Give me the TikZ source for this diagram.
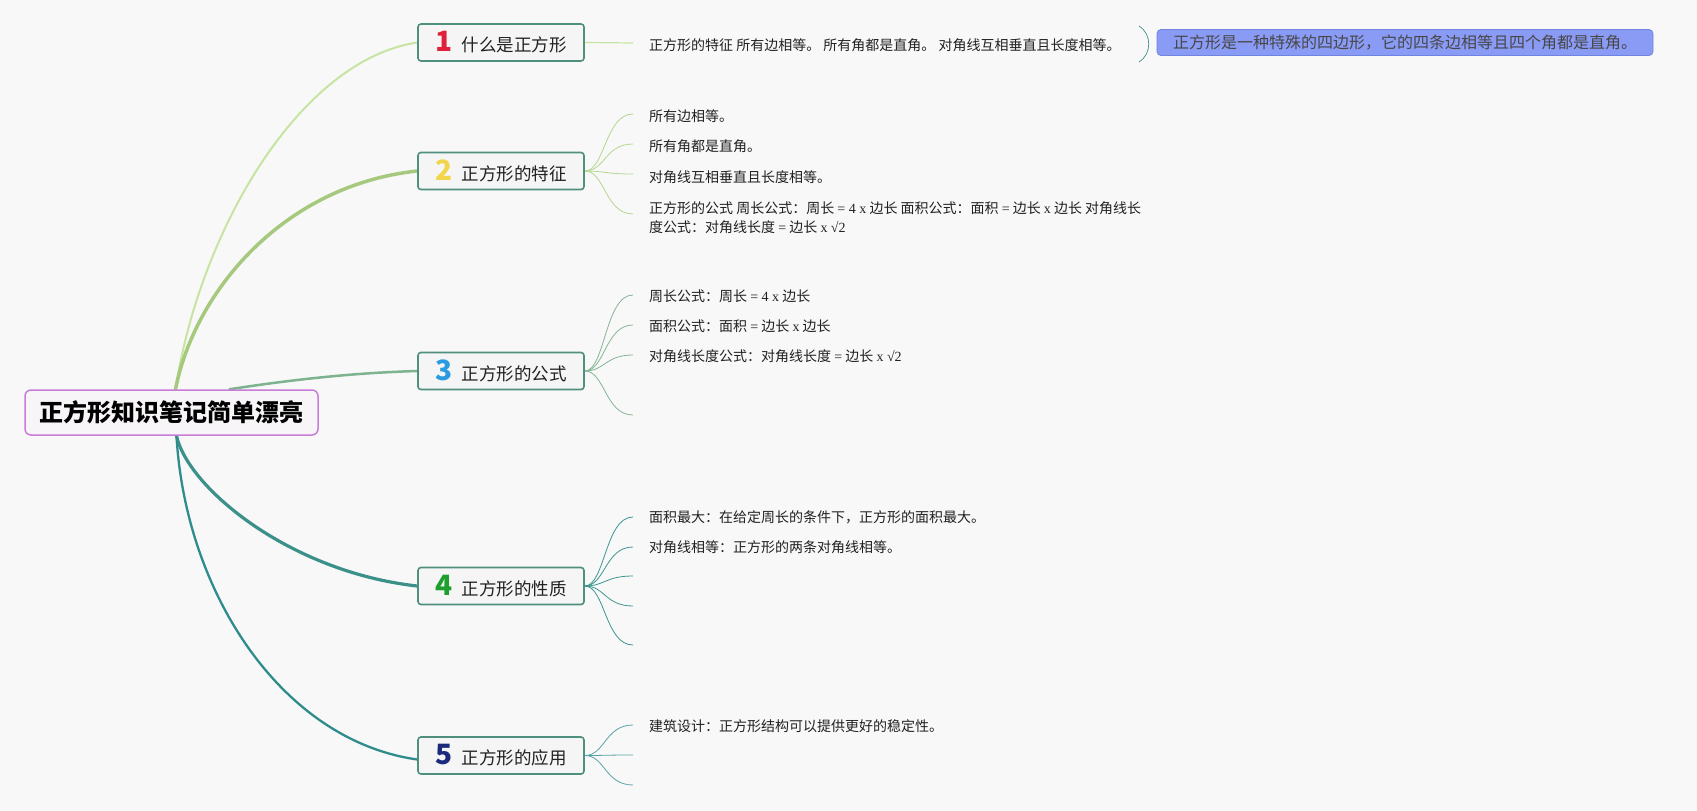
\documentclass[tikz,border=0pt]{standalone}
\usepackage{fontspec}
\setmainfont{Noto Sans CJK SC}
\newfontfamily\latinfont{Liberation Serif}
\usetikzlibrary{backgrounds}
\definecolor{bg}{HTML}{F8F8F8}
\definecolor{cA}{HTML}{C8E4A2}
\definecolor{cB}{HTML}{A6C97E}
\definecolor{cC}{HTML}{7DB38E}
\definecolor{cD}{HTML}{3B918A}
\definecolor{cE}{HTML}{2F8C8C}
\definecolor{chB}{HTML}{B5D68E}
\definecolor{chC}{HTML}{86B596}
\definecolor{chD}{HTML}{3E9590}
\definecolor{chE}{HTML}{5AA3A8}
\definecolor{nodeborder}{HTML}{4E8F7E}
\definecolor{nodefill}{HTML}{F4F5F4}
\definecolor{rootborder}{HTML}{C87DD8}
\definecolor{rootfill}{HTML}{F8F5F8}
\definecolor{callfill}{HTML}{8A9BF6}
\definecolor{callborder}{HTML}{6F84E0}
\definecolor{numA}{HTML}{E0203A}
\definecolor{numB}{HTML}{F2D54A}
\definecolor{numC}{HTML}{2A9BE0}
\definecolor{numD}{HTML}{1E9E2E}
\definecolor{numE}{HTML}{1C2A7E}
\newcommand\myl[1]{{\latinfont #1}}
\newcommand\mynum[2]{{\color{#1}\fontsize{28}{28}\selectfont\bfseries #2}\hspace{9pt}}
\begin{document}
\begin{tikzpicture}[x=1pt,y=-1pt,
  topic/.style={draw=nodeborder, line width=1.6pt, fill=nodefill, rounded corners=3pt,
    minimum width=166pt, minimum height=37pt, inner sep=0pt,
    font=\fontsize{17.5}{20}\selectfont, text=black!87},
  sub/.style={anchor=west, inner sep=0pt, font=\fontsize{14}{19.5}\selectfont, text=black!87},
  branch/.style={line cap=round},
  kid/.style={line width=0.8pt}]
\useasboundingbox (0,0) rectangle (1697,811);
\begin{pgfonlayer}{background}
\fill[bg] (0,0) rectangle (1697,811);
\end{pgfonlayer}

\node[draw=rootborder, line width=1.5pt, fill=rootfill, rounded corners=6pt,
  minimum width=293pt, minimum height=45pt, inner sep=0pt,
  font=\fontsize{24}{28}\selectfont\bfseries] (root) at (171.5,412.5) {正方形知识笔记简单漂亮};

\node[topic] (n1) at (501,42.5) {\mynum{numA}{1}什么是正方形};
\node[topic] (n2) at (501,171) {\mynum{numB}{2}正方形的特征};
\node[topic] (n3) at (501,371) {\mynum{numC}{3}正方形的公式};
\node[topic] (n4) at (501,586) {\mynum{numD}{4}正方形的性质};
\node[topic] (n5) at (501,755.5) {\mynum{numE}{5}正方形的应用};

% child endpoints
\coordinate (e1) at (633,43);
\coordinate (e2a) at (633,114); \coordinate (e2b) at (633,144);
\coordinate (e2c) at (633,174); \coordinate (e2d) at (633,214);
\coordinate (e3a) at (633,295); \coordinate (e3b) at (633,325);
\coordinate (e3c) at (633,355); \coordinate (e3d) at (633,415);
\coordinate (e4a) at (633,517); \coordinate (e4b) at (633,547);
\coordinate (e4c) at (633,576); \coordinate (e4d) at (633,606);
\coordinate (e4e) at (633,645);
\coordinate (e5a) at (633,725); \coordinate (e5b) at (633,755);
\coordinate (e5c) at (633,785);

% texts
\node[sub] (t1) at (649,45) {正方形的特征 所有边相等。 所有角都是直角。 对角线互相垂直且长度相等。};
\node[sub] (t2a) at (649,116) {所有边相等。};
\node[sub] (t2b) at (649,146) {所有角都是直角。};
\node[sub] (t2c) at (649,177) {对角线互相垂直且长度相等。};
\node[sub, align=left] (t2d) at (649,217.5) {正方形的公式 周长公式：周长 \myl{= 4 x} 边长 面积公式：面积 \myl{=} 边长 \myl{x} 边长 对角线长\\度公式：对角线长度 \myl{=} 边长 \myl{x √2}};
\node[sub] (t3a) at (649,296) {周长公式：周长 \myl{= 4 x} 边长};
\node[sub] (t3b) at (649,326) {面积公式：面积 \myl{=} 边长 \myl{x} 边长};
\node[sub] (t3c) at (649,356) {对角线长度公式：对角线长度 \myl{=} 边长 \myl{x √2}};
\node[sub] (t4a) at (649,517) {面积最大：在给定周长的条件下，正方形的面积最大。};
\node[sub] (t4b) at (649,547) {对角线相等：正方形的两条对角线相等。};
\node[sub] (t5a) at (649,726) {建筑设计：正方形结构可以提供更好的稳定性。};

% callout
\node[draw=callborder, line width=0.8pt, fill=callfill, rounded corners=4pt,
  minimum width=496pt, minimum height=26pt, inner sep=0pt,
  font=\fontsize{16}{18}\selectfont, text=black!72] (call) at (1405,42.5)
  {正方形是一种特殊的四边形，它的四条边相等且四个角都是直角。};
\coordinate (bt) at (1139,26);
\coordinate (bb) at (1139,62);
\draw[cD, line width=0.7pt] (bt) .. controls (1152,34) and (1152,54) .. (bb);

\begin{pgfonlayer}{background}
% main branches
\draw[branch, cA, line width=2pt] ([xshift=4pt]root.north) .. controls (200,230) and (300,60) .. (n1.west);
\draw[branch, cB, line width=3.5pt] ([xshift=4pt]root.north) .. controls (195,290) and (285,185) .. (n2.west);
\draw[branch, cC, line width=2.5pt] ([xshift=58pt]root.north) .. controls (290,380) and (350,373) .. (n3.west);
\draw[branch, cD, line width=3.2pt] ([xshift=5pt]root.south) .. controls (188,488) and (290,572) .. (n4.west);
\draw[branch, cE, line width=2.3pt] ([xshift=5pt]root.south) .. controls (185,590) and (280,740) .. ([yshift=-4pt]n5.west);
% children
\draw[kid, cA, line width=1.2pt] (n1.east) -- (e1);
\foreach \e in {e2a,e2b,e2c,e2d}
  \draw[kid, chB] (n2.east) .. controls (605,171) and (605,0|-\e) .. (\e);
\foreach \e in {e3a,e3b,e3c,e3d}
  \draw[kid, chC] (n3.east) .. controls (605,371) and (605,0|-\e) .. (\e);
\foreach \e in {e4a,e4b,e4c,e4d,e4e}
  \draw[kid, chD] (n4.east) .. controls (605,586) and (605,0|-\e) .. (\e);
\foreach \e in {e5a,e5b,e5c}
  \draw[kid, chE] (n5.east) .. controls (605,755.5) and (605,0|-\e) .. (\e);
\end{pgfonlayer}
\end{tikzpicture}
\end{document}
